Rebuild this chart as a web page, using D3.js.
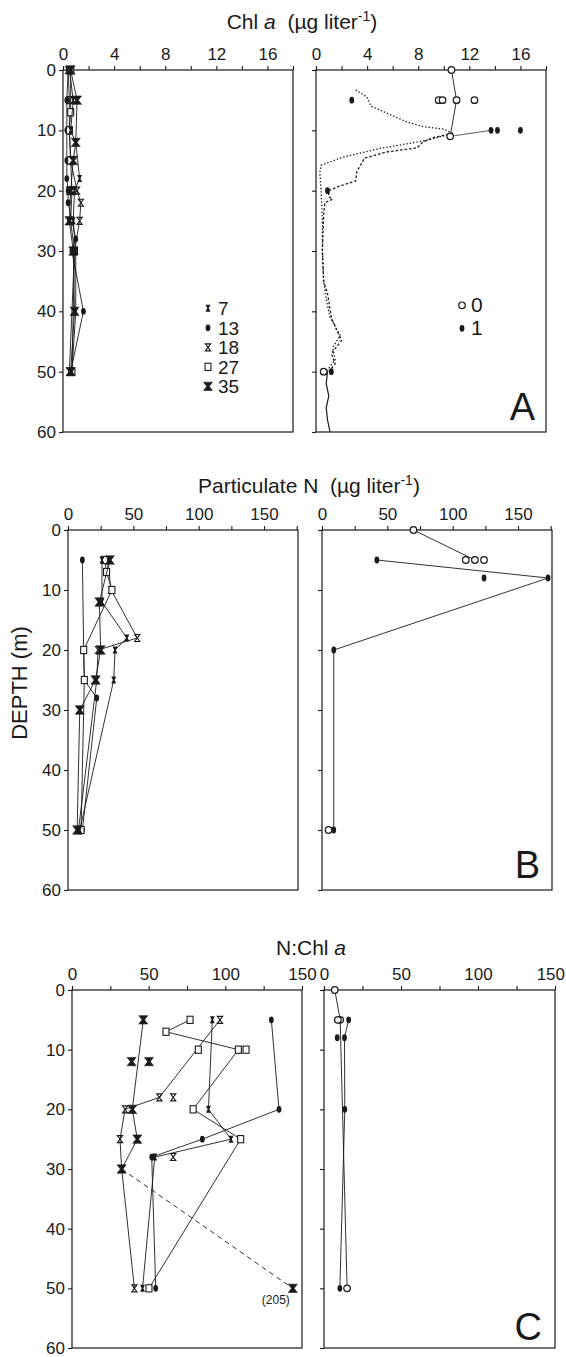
<!DOCTYPE html>
<html>
<head>
<meta charset="utf-8">
<script src="https://cdn.jsdelivr.net/npm/d3@7"></script>
<style>
  body { margin: 0; background: #fff; }
  svg { display: block; font-family: "Liberation Sans", Arial, sans-serif; }
</style>
</head>
<body>
<svg id="fig" width="566" height="1357"></svg>
<script>
// ---- data: [depth (m), value] ----
const depthTicks = [0, 10, 20, 30, 40, 50, 60];

// A: Chl a (µg/l), stations 7, 13, 18, 27, 35
const chlTicks = [0, 2, 4, 6, 8, 10, 12, 14, 16, 18];
const chlLabels = [0, 4, 8, 12, 16];
const chlSt7  = [[0,0.5],[5,0.8],[10,0.6],[12,1.0],[18,1.3],[20,0.9],[25,0.8],[30,1.0],[40,1.0],[50,0.7]];
const chlSt13 = [[0,0.4],[5,0.3],[10,0.3],[15,0.3],[18,0.3],[20,0.4],[22,0.4],[28,1.0],[30,0.7],[40,1.6],[50,0.6]];
const chlSt18 = [[0,0.4],[5,0.5],[10,0.5],[15,0.6],[20,1.1],[22,1.4],[25,1.3],[30,0.9],[50,0.5]];
const chlSt27 = [[0,0.6],[7,0.6],[10,0.5],[15,0.6],[20,0.7],[25,0.6],[30,0.9],[50,0.7]];
const chlSt35 = [[0,0.6],[5,1.1],[12,1.0],[15,0.8],[20,0.6],[25,0.5],[30,0.8],[40,0.9],[50,0.6]];
// stations 0 and 1
const chlSt0 = [[0,10.6],[5,11.0],[11,10.5]];
const chlSt0Extra = [[5,9.6],[5,9.9],[5,12.4],[50,0.6]];
const chlSt1 = [[5,2.8],[10,13.7],[10,14.2],[10,16.0],[20,0.9],[50,1.2]];
const chlLink = [[11,10.5],[10,13.7]];
// in vivo fluorescence profiles
const fluorDotted = [[3.3,3.1],[4.5,4.0],[6,4.3],[7.2,5.6],[8.6,7.1],[9.4,8.4],[9.8,10.0],[10.5,10.7],[11.2,9.5],[11.8,8.3],[13,5],[14.5,2],[15.8,0.4],[17,0.3],[20,0.4],[25,0.5],[30,0.5],[35,0.6],[38,0.8],[41,1.1],[44,1.9],[46,1.3],[48,1.5],[50,0.8]];
const fluorDashed = [[10.5,10.7],[11.2,9.2],[11.9,8.4],[12.9,7.9],[13.6,5.5],[14.6,3.8],[15.7,3.5],[16.8,3.2],[18.4,3.1],[19.2,1.9],[20,1.0],[21,1.0],[21.4,1.3],[22,0.7],[24,0.6],[30,0.5],[35,0.6],[37,0.9],[41,1.2],[43,1.6],[44.8,2.0],[47,1.2],[48.7,1.5],[50,1.0]];
const fluorBottom = [[50,0.9],[52,0.8],[54,1.0],[56,0.8],[58,0.9],[60,1.1]];

// B: particulate N (µg/l)
const pnTicks = [0, 25, 50, 75, 100, 125, 150, 175];
const pnLabels = [0, 50, 100, 150];
const pnSt7  = [[5,26],[12,26],[18,45],[20,36],[25,35],[50,9]];
const pnSt13 = [[5,11],[20,12],[25,12.5],[28,22],[50,11]];
const pnSt18 = [[5,30],[10,33],[18,53],[20,23],[25,22],[50,8]];
const pnSt27 = [[5,28],[7,29.5],[10,33.6],[20,12],[25,12.5],[50,10]];
const pnSt35 = [[5,32],[12,24],[20,25],[25,21],[30,9],[50,7]];
const pnSt0 = [[0,70],[5,117]];
const pnSt0Extra = [[5,110],[5,124],[50,5]];
const pnSt1 = [[5,42],[8,173],[20,9],[50,9]];
const pnSt1Extra = [[8,124]];

// C: N:Chl a
const ncTicks = [0, 25, 50, 75, 100, 125, 150];
const ncLabels = [0, 50, 100, 150];
const ncSt7  = [[5,91.5],[20,89],[25,103.7],[28,54],[50,46]];
const ncSt13 = [[5,130],[20,135],[25,85],[28,52],[50,54.6]];
const ncSt18 = [[5,96.5],[18,57],[20,34.6],[25,31.3],[30,32.4],[50,40.7]];
const ncSt18Extra = [[18,66],[28,66]];
const ncSt27 = [[5,77],[7,61.3],[10,108.5],[20,79],[25,110],[50,50.2]];
const ncSt27Extra = [[10,82.4],[10,113.5]];
const ncSt35 = [[5,46.5],[20,39.3],[25,42.6],[30,32.4]];
const ncSt35Extra = [[12,38.9],[12,50.2]];
const ncSt35Deep = [[30,32.4],[50,205]];   // off scale, drawn at the edge
const ncOffScaleAt = 144;
const ncSt0 = [[0,7],[5,10.5],[50,15]];
const ncSt0Extra = [[5,9]];
const ncSt1 = [[5,16],[8,13.3],[20,13.5],[50,10.3]];
const ncSt1Extra = [[8,8.6]];

const legendLeft = [["st7","7"],["st13","13"],["st18","18"],["st27","27"],["st35","35"]];
const legendRight = [["st0","0"],["st1","1"]];

// ---- drawing ----
const svg = d3.select("#fig");
const ink = "#1a1a1a";
const pageW = 566;

function marker(g, type, cx, cy) {
  const m = g.append("g").attr("transform", `translate(${cx},${cy})`);
  if (type === "st7") {
    m.append("path").attr("d", "M-2.5,-3.5H2.5L0.8,0L2.5,3.5H-2.5L-0.8,0Z").attr("fill", ink);
  } else if (type === "st13" || type === "st1") {
    m.append("ellipse").attr("rx", 2.4).attr("ry", 3.4).attr("fill", ink);
  } else if (type === "st18") {
    m.append("path").attr("d", "M-2.6,-3.5H2.6L-2.6,3.5H2.6Z").attr("fill", "none")
      .attr("stroke", ink).attr("stroke-width", 1.1);
  } else if (type === "st27") {
    m.append("rect").attr("x", -3).attr("y", -3.6).attr("width", 6).attr("height", 7.2)
      .attr("fill", "#fff").attr("stroke", ink).attr("stroke-width", 1.1);
  } else if (type === "st35") {
    m.append("path").attr("d", "M-4.5,-4.2H4.5L1.3,0L4.5,4.2H-4.5L-1.3,0Z").attr("fill", ink)
      .attr("stroke", ink).attr("stroke-width", 0.6);
  } else if (type === "st0") {
    m.append("circle").attr("r", 3.3).attr("fill", "#fff").attr("stroke", ink).attr("stroke-width", 1.2);
  }
}

function panel(p) {
  const x = d3.scaleLinear().domain(p.domain).range([p.x0, p.x1]);
  const y = d3.scaleLinear().domain([0, 60]).range([p.y0, p.y1]);
  const g = svg.append("g");

  g.append("rect")
    .attr("x", p.x0).attr("y", p.y0)
    .attr("width", p.x1 - p.x0).attr("height", p.y1 - p.y0)
    .attr("fill", "none").attr("stroke", ink).attr("stroke-width", 1.2);

  const ax = g.append("g").attr("transform", `translate(0,${p.y0})`)
    .call(d3.axisTop(x).tickValues(p.ticks).tickSize(4).tickPadding(6)
      .tickFormat(d => p.labels.includes(d) ? d : ""));
  const ay = g.append("g").attr("transform", `translate(${p.x0},0)`)
    .call(d3.axisLeft(y).tickValues(depthTicks).tickSize(4).tickPadding(3)
      .tickFormat(d => p.depthLabels ? d : ""));
  [ax, ay].forEach(a => {
    a.select(".domain").remove();
    a.selectAll("line").attr("stroke", ink).attr("stroke-width", 1.1);
    a.selectAll("text").attr("fill", ink).style("font-size", "17px");
  });
  // keep labels at the page edge inside the picture
  ax.selectAll("text").each(function () {
    const b = this.getBoundingClientRect();
    if (b.right > pageW - 1) d3.select(this).attr("dx", pageW - 1 - b.right);
  });

  const line = d3.line().x(d => x(d[1])).y(d => y(d[0]));
  p.draw(g, x, y, line);
  return g;
}

function series(g, x, y, line, pts, type, extra, dash) {
  g.append("path").attr("d", line(pts)).attr("fill", "none")
    .attr("stroke", ink).attr("stroke-width", 0.9)
    .attr("stroke-dasharray", dash || null);
  pts.concat(extra || []).forEach(d => marker(g, type, x(d[1]), y(d[0])));
}

function letter(txt, xr, yb) {
  svg.append("text").attr("x", xr).attr("y", yb).attr("text-anchor", "end")
    .attr("fill", ink).style("font-size", "38px").text(txt);
}

function unitTitle(cx, yb, main) {
  const t = svg.append("text").attr("x", cx).attr("y", yb).attr("text-anchor", "middle")
    .attr("fill", ink).style("font-size", "21px").style("white-space", "pre");
  main(t);
  t.append("tspan").text("  (µg liter");
  t.append("tspan").attr("dy", -8).style("font-size", "14px").text("-1");
  t.append("tspan").attr("dy", 8).text(")");
}

// titles
unitTitle(302, 29, t => { t.append("tspan").text("Chl "); t.append("tspan").style("font-style", "italic").text("a"); });
unitTitle(309, 493, t => t.append("tspan").text("Particulate N"));
const tc = svg.append("text").attr("x", 311).attr("y", 955).attr("text-anchor", "middle")
  .attr("fill", ink).style("font-size", "21px");
tc.append("tspan").text("N:Chl ");
tc.append("tspan").style("font-style", "italic").text("a");

svg.append("text").attr("transform", "translate(27,683) rotate(-90)").attr("text-anchor", "middle")
  .attr("fill", ink).style("font-size", "22px").text("DEPTH (m)");

// Row A
panel({ x0: 63, x1: 293, y0: 70, y1: 432, domain: [0, 18], ticks: chlTicks, labels: chlLabels, depthLabels: true,
  draw: (g, x, y, line) => {
    series(g, x, y, line, chlSt13, "st13");
    series(g, x, y, line, chlSt18, "st18");
    series(g, x, y, line, chlSt27, "st27");
    series(g, x, y, line, chlSt7, "st7");
    series(g, x, y, line, chlSt35, "st35");
    legendLeft.forEach((d, i) => {
      const ly = y(40) - 3 + i * 19.5;
      marker(g, d[0], 208, ly);
      g.append("text").attr("x", 218).attr("y", ly + 7).attr("fill", ink)
        .style("font-size", "19px").text(d[1]);
    });
  }});
panel({ x0: 316, x1: 546, y0: 70, y1: 432, domain: [0, 18], ticks: chlTicks, labels: chlLabels, depthLabels: false,
  draw: (g, x, y, line) => {
    g.append("path").attr("d", line(fluorDotted)).attr("fill", "none").attr("stroke", ink)
      .attr("stroke-width", 1.3).attr("stroke-dasharray", "1.4,2");
    g.append("path").attr("d", line(fluorDashed)).attr("fill", "none").attr("stroke", ink)
      .attr("stroke-width", 1.3).attr("stroke-dasharray", "2.5,2");
    g.append("path").attr("d", line(fluorBottom)).attr("fill", "none").attr("stroke", ink).attr("stroke-width", 1.2);
    g.append("path").attr("d", line(chlLink)).attr("fill", "none").attr("stroke", ink).attr("stroke-width", 0.7);
    series(g, x, y, line, chlSt0, "st0", chlSt0Extra);
    chlSt1.forEach(d => marker(g, "st1", x(d[1]), y(d[0])));
    legendRight.forEach((d, i) => {
      const ly = y(39) + i * 23;
      marker(g, d[0], 462, ly);
      g.append("text").attr("x", 471).attr("y", ly + 7).attr("fill", ink)
        .style("font-size", "21px").text(d[1]);
    });
  }});
letter("A", 535, 420);

// Row B
panel({ x0: 68, x1: 298, y0: 530, y1: 890, domain: [0, 176], ticks: pnTicks, labels: pnLabels, depthLabels: true,
  draw: (g, x, y, line) => {
    series(g, x, y, line, pnSt13, "st13");
    series(g, x, y, line, pnSt18, "st18");
    series(g, x, y, line, pnSt27, "st27");
    series(g, x, y, line, pnSt7, "st7");
    series(g, x, y, line, pnSt35, "st35");
  }});
panel({ x0: 322, x1: 552, y0: 530, y1: 890, domain: [0, 176], ticks: pnTicks, labels: pnLabels, depthLabels: false,
  draw: (g, x, y, line) => {
    series(g, x, y, line, pnSt1, "st1", pnSt1Extra);
    series(g, x, y, line, pnSt0, "st0", pnSt0Extra);
  }});
letter("B", 540, 878);

// Row C
panel({ x0: 72, x1: 302, y0: 990, y1: 1348, domain: [0, 150], ticks: ncTicks, labels: ncLabels, depthLabels: true,
  draw: (g, x, y, line) => {
    const deep = ncSt35Deep.map(d => [d[0], Math.min(d[1], ncOffScaleAt)]);
    g.append("path").attr("d", line(deep)).attr("fill", "none").attr("stroke", ink)
      .attr("stroke-width", 0.9).attr("stroke-dasharray", "5,4");
    marker(g, "st35", x(deep[1][1]), y(deep[1][0]));
    g.append("text").attr("x", x(deep[1][1]) - 3).attr("y", y(deep[1][0]) + 16).attr("text-anchor", "end")
      .attr("fill", ink).style("font-size", "12px").text(`(${ncSt35Deep[1][1]})`);
    series(g, x, y, line, ncSt13, "st13");
    series(g, x, y, line, ncSt18, "st18", ncSt18Extra);
    series(g, x, y, line, ncSt27, "st27", ncSt27Extra);
    series(g, x, y, line, ncSt7, "st7");
    series(g, x, y, line, ncSt35, "st35", ncSt35Extra);
  }});
panel({ x0: 324, x1: 555, y0: 990, y1: 1348, domain: [0, 150], ticks: ncTicks, labels: ncLabels, depthLabels: false,
  draw: (g, x, y, line) => {
    series(g, x, y, line, ncSt1, "st1", ncSt1Extra);
    series(g, x, y, line, ncSt0, "st0", ncSt0Extra);
  }});
letter("C", 542, 1340);
</script>
</body>
</html>
